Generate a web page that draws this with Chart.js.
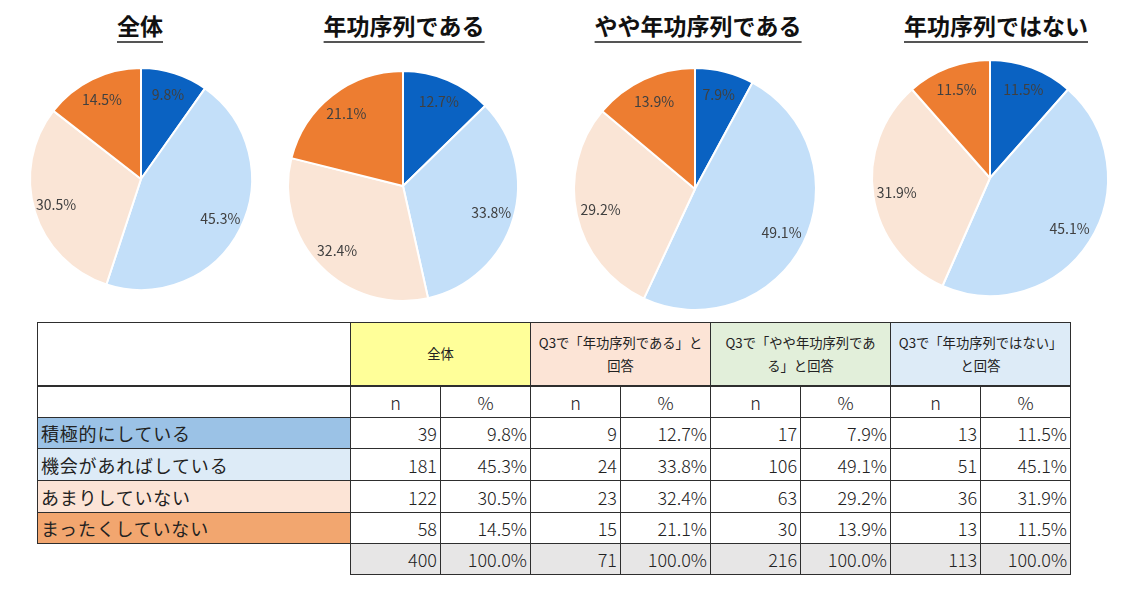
<!DOCTYPE html>
<html lang="ja">
<head>
<meta charset="UTF-8">
<title>年功序列と取り組み</title>
<script src="https://cdn.jsdelivr.net/npm/chart.js"></script>
<style>
  html, body {
    margin: 0;
    padding: 0;
    background: #fff;
    width: 1128px;
    height: 590px;
    overflow: hidden;
    font-family: "Noto Sans CJK JP", "Noto Sans", sans-serif;
  }
  .pie-title {
    position: absolute;
    top: 11px;
    transform: translateX(-50%);
    font-size: 23px;
    line-height: 28px;
    font-weight: bold;
    color: #111;
    white-space: nowrap;
    padding-bottom: 2px;
    border-bottom: 2px solid #555;
  }
  .pie-box {
    position: absolute;
    width: 260px;
    height: 260px;
  }
  #resultTable {
    position: absolute;
    left: 37px;
    top: 322px;
    width: 1033px;
    border-collapse: collapse;
    table-layout: fixed;
    color: #222;
  }
  #resultTable td {
    border: 1px solid #2e2e2e;
    padding: 0;
    overflow: hidden;
    white-space: nowrap;
  }
  #resultTable .grp {
    font-size: 13.3px;
    line-height: 23px;
    text-align: center;
    border-bottom: 2px solid #2e2e2e;
  }
  #resultTable .corner { border-bottom: 2px solid #2e2e2e; }
  #resultTable .sub {
    font-size: 18px;
    font-weight: 300;
    text-align: center;
  }
  #resultTable .num {
    font-size: 18px;
    font-weight: 300;
    text-align: right;
    padding-right: 3px;
  }
  #resultTable .lbl {
    font-size: 18px;
    letter-spacing: 0.8px;
    padding-left: 3px;
    text-align: left;
  }
  #resultTable .tot { background: #e7e6e6; }
  #resultTable td.blank { border: none; }
</style>
</head>
<body>

<div id="titles"></div>
<div id="pies"></div>
<table id="resultTable">
  <colgroup>
    <col style="width:313px">
    <col style="width:90px"><col style="width:90px">
    <col style="width:90px"><col style="width:90px">
    <col style="width:90px"><col style="width:90px">
    <col style="width:90px"><col style="width:90px">
  </colgroup>
  <tbody id="tableBody"></tbody>
</table>

<script>
// 回答の選択肢
const categories = ['積極的にしている', '機会があればしている', 'あまりしていない', 'まったくしていない'];

// グループ名（円グラフのタイトル / 表の見出し）
const pieTitles = ['全体', '年功序列である', 'やや年功序列である', '年功序列ではない'];
const tableHeaders = [
  '全体',
  'Q3で「年功序列である」と<br>回答',
  'Q3で「やや年功序列であ<br>る」と回答',
  'Q3で「年功序列ではない」<br>と回答'
];

// 人数 (n)
const nAll       = [39, 181, 122, 58];
const nSenior    = [9, 24, 23, 15];
const nSomewhat  = [17, 106, 63, 30];
const nNotSenior = [13, 51, 36, 13];
const nTotals    = [400, 71, 216, 113];

// 割合 (%)
const pctAll       = [9.8, 45.3, 30.5, 14.5];
const pctSenior    = [12.7, 33.8, 32.4, 21.1];
const pctSomewhat  = [7.9, 49.1, 29.2, 13.9];
const pctNotSenior = [11.5, 45.1, 31.9, 11.5];

const nGroups = [nAll, nSenior, nSomewhat, nNotSenior];
const pctGroups = [pctAll, pctSenior, pctSomewhat, pctNotSenior];

// 見た目
const sliceColors = ['#0a62c2', '#c3dff9', '#fae5d6', '#ed7d31'];
const rowColors = ['#9bc2e6', '#ddebf7', '#fce4d6', '#f2a66f'];
const headerColors = ['#ffff99', '#fce4d6', '#e2efda', '#ddebf7'];
const titleCenters = [140, 404, 698, 996];
const pieCenters = [[141, 179], [403, 186], [695, 189], [990, 178]];
const pieRadius = [111, 115, 121, 118];

// 円グラフ内のラベル
const sliceLabels = {
  id: 'sliceLabels',
  afterDatasetsDraw(chart) {
    const ctx = chart.ctx;
    const values = chart.data.datasets[0].data;
    ctx.save();
    ctx.font = '14px "Noto Sans CJK JP", "Noto Sans", sans-serif';
    ctx.fillStyle = '#404040';
    ctx.textAlign = 'center';
    ctx.textBaseline = 'middle';
    chart.getDatasetMeta(0).data.forEach((arc, i) => {
      const p = arc.getProps(['x', 'y', 'startAngle', 'endAngle', 'outerRadius'], true);
      const a = (p.startAngle + p.endAngle) / 2;
      const r = p.outerRadius * 0.8;
      ctx.fillText(values[i].toFixed(1) + '%', p.x + Math.cos(a) * r, p.y + Math.sin(a) * r);
    });
    ctx.restore();
  }
};

const titles = document.getElementById('titles');
const pies = document.getElementById('pies');

pieTitles.forEach((t, g) => {
  const d = document.createElement('div');
  d.className = 'pie-title';
  d.style.left = titleCenters[g] + 'px';
  d.textContent = t;
  titles.appendChild(d);

  const box = document.createElement('div');
  box.className = 'pie-box';
  box.style.left = (pieCenters[g][0] - 130) + 'px';
  box.style.top = (pieCenters[g][1] - 130) + 'px';
  const cv = document.createElement('canvas');
  box.appendChild(cv);
  pies.appendChild(box);

  new Chart(cv, {
    type: 'pie',
    data: {
      labels: categories,
      datasets: [{
        data: pctGroups[g],
        backgroundColor: sliceColors,
        borderColor: '#ffffff',
        borderWidth: 2,
        radius: pieRadius[g]
      }]
    },
    options: {
      responsive: true,
      maintainAspectRatio: false,
      animation: false,
      layout: { padding: 0 },
      plugins: {
        legend: { display: false },
        tooltip: { enabled: false },
        title: { display: false }
      }
    },
    plugins: [sliceLabels]
  });
});

// 表
function displayTable() {
  const body = document.getElementById('tableBody');
  let html = '';

  html += '<tr style="height:63px"><td class="corner"></td>';
  tableHeaders.forEach((h, g) => {
    html += `<td colspan="2" class="grp" style="background:${headerColors[g]}">${h}</td>`;
  });
  html += '</tr>';

  html += '<tr style="height:32px"><td></td>';
  tableHeaders.forEach(() => {
    html += '<td class="sub">n</td><td class="sub">%</td>';
  });
  html += '</tr>';

  const heights = [31, 32, 32, 31];
  categories.forEach((c, i) => {
    html += `<tr style="height:${heights[i]}px"><td class="lbl" style="background:${rowColors[i]}">${c}</td>`;
    nGroups.forEach((ns, g) => {
      html += `<td class="num">${ns[i]}</td><td class="num">${pctGroups[g][i].toFixed(1)}%</td>`;
    });
    html += '</tr>';
  });

  html += '<tr style="height:31px"><td class="blank"></td>';
  nTotals.forEach(n => {
    html += `<td class="num tot">${n}</td><td class="num tot">100.0%</td>`;
  });
  html += '</tr>';

  body.innerHTML = html;
}
displayTable();
</script>
</body>
</html>
